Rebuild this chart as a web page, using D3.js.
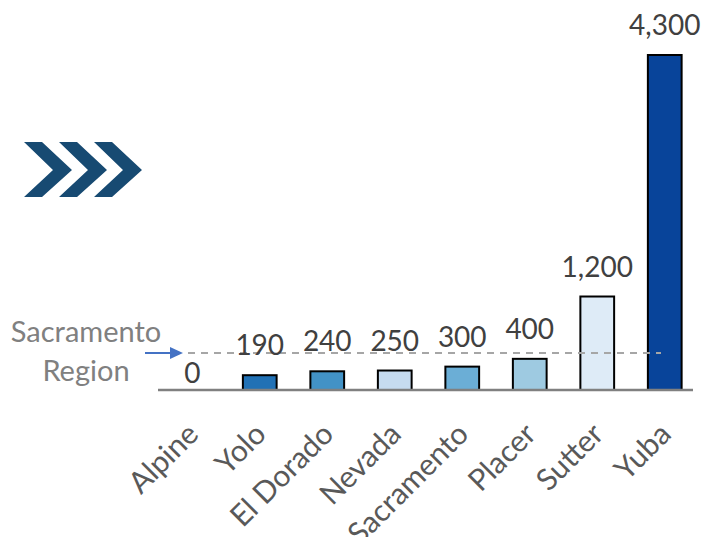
<!DOCTYPE html>
<html>
<head>
<meta charset="utf-8">
<script src="https://cdn.jsdelivr.net/npm/d3@7/dist/d3.min.js"></script>
<style>
  body { margin: 0; background: #fff; }
  svg { display: block; font-family: Lato, "Open Sans", sans-serif; }
</style>
</head>
<body>
<svg id="chart"></svg>
<script>
// counties and values
var counties = ['Alpine', 'Yolo', 'El Dorado', 'Nevada', 'Sacramento', 'Placer', 'Sutter', 'Yuba'];
var values = [0, 190, 240, 250, 300, 400, 1200, 4300];
var barColors = ['#ffffff', '#2171b5', '#4292c6', '#c6dbef', '#6baed6', '#9ecae1', '#deebf7', '#08449a'];
// dashed reference line for the region
var regionLabel = ['Sacramento', 'Region'];
var regionValue = 475;

var width = 703,
    height = 537;

var svg = d3.select('#chart')
    .attr('width', width)
    .attr('height', height);

var x = d3.scaleBand()
    .domain(counties)
    .range([158.5, 698.5])
    .paddingInner(0.5)
    .paddingOuter(0.25);

var y = d3.scaleLinear()
    .domain([0, 4300])
    .range([390, 55]);

// chevrons on the left
var chevron = [[0, 0], [18, 0], [48, 28], [18, 55], [0, 55], [29, 28]];
[0, 35, 70].forEach(function(dx) {
    svg.append('polygon')
        .attr('points', chevron.map(function(p) { return (24 + dx + p[0]) + ',' + (142 + p[1]); }).join(' '))
        .attr('fill', '#174a72');
});

// bars
svg.selectAll('.bar')
    .data(values)
    .enter().append('rect')
    .attr('class', 'bar')
    .attr('x', function(d, i) { return x(counties[i]); })
    .attr('y', function(d) { return y(d); })
    .attr('width', x.bandwidth())
    .attr('height', function(d) { return y(0) - y(d); })
    .attr('fill', function(d, i) { return barColors[i]; })
    .attr('stroke', function(d) { return d > 0 ? '#000' : 'none'; })
    .attr('stroke-width', 2);

// axis line
svg.append('line')
    .attr('x1', 158)
    .attr('x2', 693)
    .attr('y1', y(0))
    .attr('y2', y(0))
    .attr('stroke', '#808080')
    .attr('stroke-width', 2.5);

// region dashed line
svg.append('line')
    .attr('x1', 188)
    .attr('x2', 661)
    .attr('y1', y(regionValue))
    .attr('y2', y(regionValue))
    .attr('stroke', '#a6a6a6')
    .attr('stroke-width', 2)
    .attr('stroke-dasharray', '7,6');

// arrow to the dashed line
svg.append('line')
    .attr('x1', 145)
    .attr('x2', 172)
    .attr('y1', y(regionValue))
    .attr('y2', y(regionValue))
    .attr('stroke', '#4472c4')
    .attr('stroke-width', 2);
svg.append('polygon')
    .attr('points', [[170, y(regionValue) - 6], [183, y(regionValue)], [170, y(regionValue) + 6]].join(' '))
    .attr('fill', '#4472c4');

svg.append('text')
    .attr('x', 86)
    .attr('y', 342)
    .attr('text-anchor', 'middle')
    .attr('fill', '#808080')
    .style('font-size', '29px')
    .selectAll('tspan')
    .data(regionLabel)
    .enter().append('tspan')
    .attr('x', 86)
    .attr('dy', function(d, i) { return i ? 39 : 0; })
    .text(function(d) { return d; });

// value labels
svg.selectAll('.val')
    .data(values)
    .enter().append('text')
    .attr('class', 'val')
    .attr('x', function(d, i) { return x(counties[i]) + x.bandwidth() / 2; })
    .attr('y', function(d) { return d > 0 ? y(d) - 20 : y(d) - 7; })
    .attr('text-anchor', 'middle')
    .attr('fill', '#404040')
    .style('font-size', '28px')
    .text(function(d) { return d3.format(',')(d); });

// category labels
svg.selectAll('.cat')
    .data(counties)
    .enter().append('text')
    .attr('class', 'cat')
    .attr('text-anchor', 'end')
    .attr('fill', '#595959')
    .style('font-size', '30px')
    .attr('transform', function(d) {
        return 'translate(' + (x(d) + x.bandwidth() / 2 + 8) + ',' + 436 + ') rotate(-45)';
    })
    .text(function(d) { return d; });
</script>
</body>
</html>
